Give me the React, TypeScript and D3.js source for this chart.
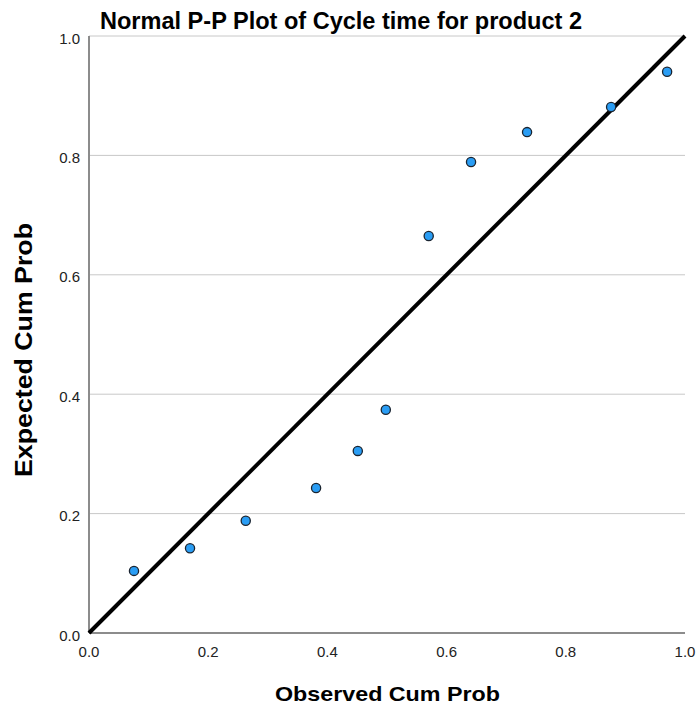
import React from "react";
import * as d3 from "d3";

const observed = [0.0755, 0.1695, 0.263, 0.381, 0.451, 0.498, 0.570, 0.641, 0.735, 0.876, 0.970];
const expected = [0.104, 0.142, 0.188, 0.243, 0.305, 0.374, 0.665, 0.789, 0.839, 0.881, 0.940];
const ticks = [0, 0.2, 0.4, 0.6, 0.8, 1.0];
const title = "Normal P-P Plot of Cycle time for product 2";
const xLabel = "Observed Cum Prob";
const yLabel = "Expected Cum Prob";

export default function App() {
  const W = 697, H = 707;
  const left = 89, right = 685, top = 36, bottom = 633;
  const x = d3.scaleLinear().domain([0, 1]).range([left, right]);
  const y = d3.scaleLinear().domain([0, 1]).range([bottom, top]);
  const line = d3.line<[number, number]>().x(d => x(d[0])).y(d => y(d[1]));
  const font = "Arial, 'Liberation Sans', sans-serif";
  return (
    <svg width={W} height={H} style={{ position: "absolute", left: 0, top: 0, background: "#fff" }} fontFamily={font}>
      <rect width={W} height={H} fill="#fff" />
      {ticks.filter(t => t > 0).map(t => (
        <line key={"g" + t} x1={left} x2={right} y1={y(t)} y2={y(t)} stroke="#c8c8c8" strokeWidth={1} />
      ))}
      <line x1={left} x2={left} y1={top} y2={bottom} stroke="#8c8c8c" strokeWidth={2} />
      <line x1={left} x2={right} y1={bottom} y2={bottom} stroke="#8c8c8c" strokeWidth={2} />
      {ticks.map(t => (
        <text key={"yt" + t} x={80} y={y(t) + 7.5} textAnchor="end" fontSize={15} fill="#222">{t.toFixed(1)}</text>
      ))}
      {ticks.map(t => (
        <text key={"xt" + t} x={x(t)} y={657} textAnchor="middle" fontSize={15} fill="#222">{t.toFixed(1)}</text>
      ))}
      <path d={line([[0, 0], [1, 1]]) || ""} stroke="#000" strokeWidth={4} fill="none" />
      {observed.map((o, i) => (
        <circle key={i} cx={x(o)} cy={y(expected[i])} r={4.6} fill="#2a9df4" stroke="#1a2430" strokeWidth={1.3} />
      ))}
      <text x={100} y={29} fontSize={23} fontWeight="bold" fill="#000" textLength={482} lengthAdjust="spacingAndGlyphs">{title}</text>
      <text x={275} y={701} fontSize={21} fontWeight="bold" fill="#000" textLength={225} lengthAdjust="spacingAndGlyphs">{xLabel}</text>
      <text transform={`translate(32, 477) rotate(-90)`} fontSize={23} fontWeight="bold" fill="#000" textLength={254} lengthAdjust="spacingAndGlyphs">{yLabel}</text>
    </svg>
  );
}
